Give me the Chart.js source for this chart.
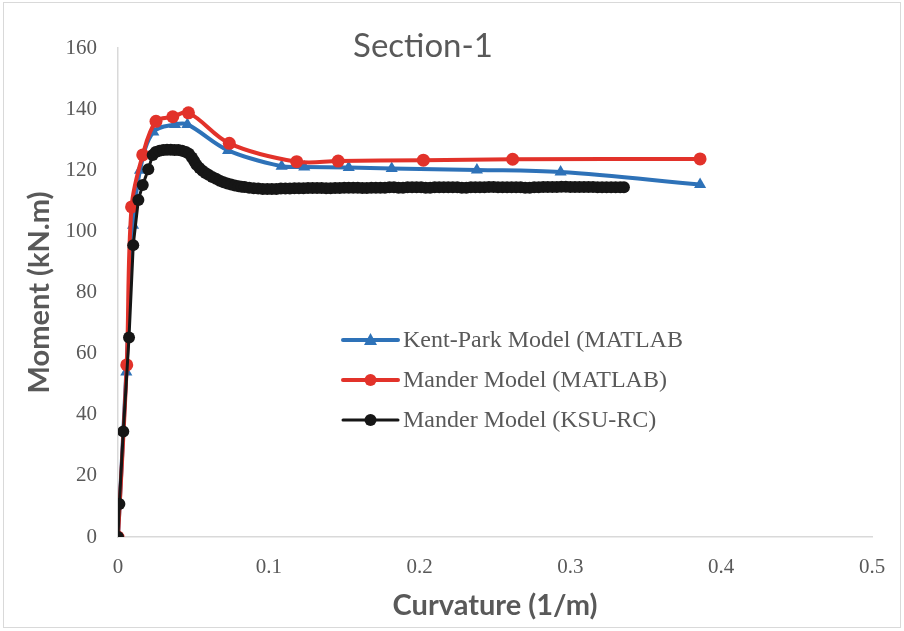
<!DOCTYPE html>
<html>
<head>
<meta charset="utf-8">
<script src="https://cdn.jsdelivr.net/npm/chart.js@4"></script>
<style>
  html, body { margin: 0; padding: 0; background: #fff; }
  #wrap { width: 904px; height: 631px; position: relative; }
</style>
</head>
<body>
<div id="wrap"><canvas id="chart" width="904" height="631"></canvas></div>
<script>
// Kent-Park Model (MATLAB)
const kentX = [0, 0.0055, 0.0100, 0.0146, 0.0234, 0.0378, 0.0460, 0.0730, 0.1085, 0.1235, 0.1530, 0.1815, 0.2380, 0.2935, 0.3860];
const kentY = [0, 54, 102, 120, 132.5, 135, 135, 126.5, 121.3, 121.1, 120.9, 120.6, 120.1, 119.4, 115.3];

// Mander Model (MATLAB)
const manderX = [0, 0.0058, 0.0090, 0.0164, 0.0252, 0.0363, 0.0467, 0.0738, 0.1185, 0.1460, 0.2025, 0.2617, 0.3860];
const manderY = [0, 56.3, 108, 125, 136, 137.5, 138.8, 128.8, 122.8, 123.0, 123.3, 123.6, 123.7];

// Mander Model (KSU-RC) - dense output, reads as a thick band
const ksuX = [0, 0.0009, 0.0035, 0.0073, 0.0101, 0.0135, 0.0164, 0.0201,
  0.0230, 0.0250, 0.0275, 0.0300, 0.0325, 0.0350, 0.0375, 0.0400, 0.0425, 0.0450,
  0.0470, 0.0490, 0.0505, 0.0520, 0.0540, 0.0560, 0.0580, 0.0600, 0.0625, 0.0650,
  0.0675, 0.0700, 0.0725, 0.0750, 0.0775, 0.0800, 0.0820,
  0.084, 0.087, 0.090, 0.093, 0.096, 0.099, 0.102, 0.105, 0.108, 0.111,
  0.114, 0.117, 0.120, 0.123, 0.126, 0.129, 0.132, 0.135, 0.138, 0.141,
  0.144, 0.147, 0.150, 0.153, 0.156, 0.159, 0.162, 0.165, 0.168, 0.171,
  0.174, 0.177, 0.180, 0.183, 0.186, 0.189, 0.192, 0.195, 0.198, 0.201,
  0.204, 0.207, 0.210, 0.213, 0.216, 0.219, 0.222, 0.225, 0.228, 0.231,
  0.234, 0.237, 0.240, 0.243, 0.246, 0.249, 0.252, 0.255, 0.258, 0.261,
  0.264, 0.267, 0.270, 0.273, 0.276, 0.279, 0.282, 0.285, 0.288, 0.291,
  0.294, 0.297, 0.300, 0.303, 0.306, 0.309, 0.312, 0.315, 0.318, 0.321,
  0.324, 0.327, 0.330, 0.333, 0.3355];
const ksuY = [0, 10.8, 34.5, 65.3, 95.5, 110.3, 115.2, 120.3,
  125.0, 126.0, 126.4, 126.6, 126.7, 126.7, 126.6, 126.6, 126.4, 126.0,
  125.4, 124.2, 123.0, 121.8, 120.7, 119.8, 119.1, 118.5, 117.8, 117.2,
  116.6, 116.1, 115.7, 115.3, 115.0, 114.8, 114.6,
  114.5, 114.3, 114.1, 114.0, 113.9, 113.9, 113.9, 113.9, 114.0, 114.0,
  114.0, 114.1, 114.1, 114.1, 114.2, 114.2, 114.2, 114.2, 114.1, 114.1,
  114.2, 114.2, 114.3, 114.3, 114.3, 114.3, 114.2, 114.2, 114.3, 114.3,
  114.3, 114.3, 114.4, 114.4, 114.3, 114.3, 114.4, 114.4, 114.4, 114.4,
  114.3, 114.3, 114.4, 114.4, 114.4, 114.4, 114.4, 114.4, 114.3, 114.3,
  114.4, 114.4, 114.4, 114.4, 114.5, 114.5, 114.4, 114.4, 114.4, 114.4,
  114.4, 114.4, 114.3, 114.3, 114.4, 114.4, 114.5, 114.5, 114.5, 114.5,
  114.6, 114.6, 114.5, 114.5, 114.5, 114.5, 114.5, 114.5, 114.4, 114.4,
  114.4, 114.4, 114.4, 114.4, 114.4];

const xTicks = [0, 0.1, 0.2, 0.3, 0.4, 0.5];
const yTicks = [0, 20, 40, 60, 80, 100, 120, 140, 160];

const seriesNames = ["Kent-Park Model (MATLAB", "Mander Model (MATLAB)", "Mander Model (KSU-RC)"];
const seriesColors = ["#2e72b8", "#e2322a", "#161616"];

const toPoints = (xs, ys) => xs.map((x, i) => ({ x: x, y: ys[i] }));

const gray = "#595959";

// frame, title and legend drawn on the canvas
const decorations = {
  id: "decorations",
  beforeDraw(chart) {
    const ctx = chart.ctx;
    ctx.save();
    ctx.fillStyle = "#fff";
    ctx.fillRect(0, 0, chart.width, chart.height);
    ctx.strokeStyle = "#d9d9d9";
    ctx.lineWidth = 1;
    ctx.strokeRect(3.5, 2.5, 897, 625);
    ctx.restore();
  },
  afterDraw(chart) {
    const ctx = chart.ctx;
    const area = chart.chartArea;
    ctx.save();
    // title
    ctx.fillStyle = gray;
    ctx.font = "33px Lato";
    ctx.textAlign = "center";
    ctx.textBaseline = "middle";
    ctx.fillText("Section-1", area.left + 305, 46);

    // legend
    const rows = [340, 380, 420];
    const styles = ["triangle", "circle", "circle"];
    ctx.textAlign = "left";
    ctx.font = "24px 'Liberation Serif'";
    rows.forEach((y, i) => {
      ctx.strokeStyle = seriesColors[i];
      ctx.fillStyle = seriesColors[i];
      ctx.lineWidth = i === 2 ? 3 : 4;
      ctx.lineCap = "round";
      ctx.beginPath();
      ctx.moveTo(343, y);
      ctx.lineTo(398, y);
      ctx.stroke();
      ctx.beginPath();
      if (styles[i] === "triangle") {
        ctx.moveTo(370.5, y - 7);
        ctx.lineTo(377, y + 5);
        ctx.lineTo(364, y + 5);
        ctx.closePath();
      } else {
        ctx.arc(370.5, y, 6, 0, Math.PI * 2);
      }
      ctx.fill();
      ctx.fillStyle = gray;
      ctx.fillText(seriesNames[i], 403, y + 1);
    });
    ctx.restore();
  }
};

new Chart(document.getElementById("chart"), {
  type: "scatter",
  data: {
    datasets: [
      {
        label: seriesNames[0],
        data: toPoints(kentX, kentY),
        showLine: true,
        borderColor: seriesColors[0],
        backgroundColor: seriesColors[0],
        borderWidth: 4,
        pointStyle: "triangle",
        pointRadius: 7,
        pointBorderWidth: 0,
        tension: 0.35,
        order: 3
      },
      {
        label: seriesNames[1],
        data: toPoints(manderX, manderY),
        showLine: true,
        borderColor: seriesColors[1],
        backgroundColor: seriesColors[1],
        borderWidth: 4,
        pointStyle: "circle",
        pointRadius: 6.5,
        pointBorderWidth: 0,
        tension: 0.35,
        order: 2
      },
      {
        label: seriesNames[2],
        data: toPoints(ksuX, ksuY),
        showLine: true,
        borderColor: seriesColors[2],
        backgroundColor: seriesColors[2],
        borderWidth: 3,
        pointStyle: "circle",
        pointRadius: 6,
        pointBorderWidth: 0,
        tension: 0,
        order: 1
      }
    ]
  },
  options: {
    responsive: false,
    animation: false,
    layout: { padding: { top: 48, right: 32, bottom: 8, left: 18 } },
    plugins: {
      legend: { display: false },
      tooltip: { enabled: false },
      title: { display: false }
    },
    scales: {
      x: {
        type: "linear",
        min: 0,
        max: 0.5,
        afterBuildTicks: scale => { scale.ticks = xTicks.map(v => ({ value: v })); },
        afterFit: scale => { scale.height = 86; },
        grid: { display: false, drawTicks: false },
        border: { display: true, color: "#d9d9d9", width: 1.5 },
        ticks: {
          color: gray,
          padding: 18,
          font: { family: "'Liberation Serif'", size: 21 }
        },
        title: {
          display: true,
          text: "Curvature (1/m)",
          color: gray,
          font: { family: "Lato", size: 29, weight: "bold" },
          padding: { top: 0, bottom: 0 }
        }
      },
      y: {
        type: "linear",
        min: 0,
        max: 160,
        afterBuildTicks: scale => { scale.ticks = yTicks.map(v => ({ value: v })); },
        afterFit: scale => { scale.width = 100; },
        grid: { display: false, drawTicks: false },
        border: { display: true, color: "#d9d9d9", width: 1.5 },
        ticks: {
          color: gray,
          padding: 21,
          font: { family: "'Liberation Serif'", size: 21 }
        },
        title: {
          display: true,
          text: "Moment (kN.m)",
          color: gray,
          font: { family: "Lato", size: 29, weight: "bold" },
          padding: { top: 4, bottom: 0 }
        }
      }
    }
  },
  plugins: [decorations]
});
</script>
</body>
</html>
